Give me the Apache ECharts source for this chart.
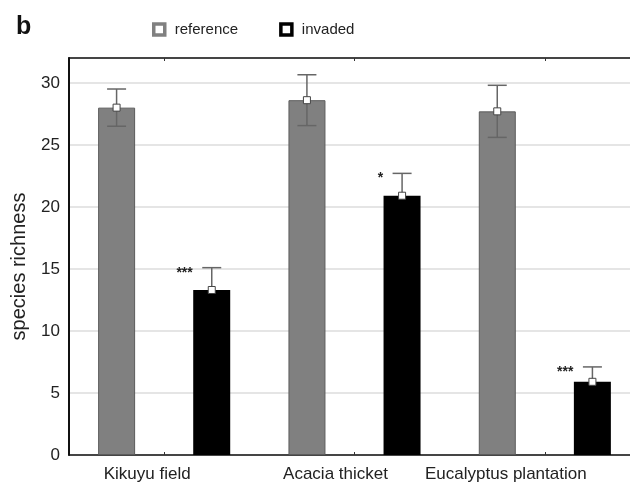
<!DOCTYPE html>
<html>
<head>
<meta charset="utf-8">
<script src="https://cdn.jsdelivr.net/npm/echarts@6/dist/echarts.min.js"></script>
<style>html,body{margin:0;padding:0;background:#fff}#c{width:630px;height:484px}</style>
</head>
<body>
<div id="c"></div>
<script>
// ---- data ----
const categories = ['Kikuyu field', 'Acacia thicket', 'Eucalyptus plantation'];
const referenceMean = [28.0, 28.6, 27.7];
const referenceErr = [1.5, 2.05, 2.1];
const invadedMean = [13.3, 20.9, 5.9];
const invadedErr = [1.8, 1.8, 1.2];
const significance = ['***', '*', '***'];
const seriesNames = ['reference', 'invaded'];

const FONT = '"Liberation Sans", Arial, sans-serif';

// error bar data: [categoryIndex, mean, err, seriesIndex, sigLabel]
const errData = [];
categories.forEach((c, i) => {
  errData.push([i, referenceMean[i], referenceErr[i], 0, '']);
  errData.push([i, invadedMean[i], invadedErr[i], 1, significance[i]]);
});

const labelShift = [34, 38, 78];

const chart = echarts.init(document.getElementById('c'), null, {renderer: 'canvas'});
chart.setOption({
  animation: false,
  backgroundColor: '#fff',
  textStyle: {fontFamily: FONT},
  title: {
    text: 'b', left: 11, top: 10,
    textStyle: {fontFamily: FONT, fontSize: 25, fontWeight: 'bold', color: '#111'}
  },
  legend: {
    left: 147, top: 17,
    itemWidth: 11, itemHeight: 11, itemGap: 41,
    icon: 'rect',
    textStyle: {fontFamily: FONT, fontSize: 15, color: '#222', padding: [0, 0, 0, 5]},
    data: [
      {name: seriesNames[0], itemStyle: {color: '#fff', borderColor: '#808080', borderWidth: 3.5}},
      {name: seriesNames[1], itemStyle: {color: '#fff', borderColor: '#000', borderWidth: 3.5}}
    ]
  },
  grid: {left: 69, right: -10, top: 58, bottom: 29, containLabel: false, outerBoundsMode: 'none'},
  xAxis: [{
    type: 'category',
    data: categories,
    axisLine: {lineStyle: {color: '#111', width: 1.5}},
    axisTick: {show: true, alignWithLabel: true, inside: true, length: 3, lineStyle: {color: '#333'}},
    axisLabel: {
      interval: 0, margin: 11,
      formatter: (v, i) => '{l' + i + '|' + v + '}',
      rich: {
        l0: {fontFamily: FONT, fontSize: 17, color: '#222', padding: [0, labelShift[0], 0, 0]},
        l1: {fontFamily: FONT, fontSize: 17, color: '#222', padding: [0, labelShift[1], 0, 0]},
        l2: {fontFamily: FONT, fontSize: 17, color: '#222', padding: [0, labelShift[2], 0, 0]}
      }
    },
    splitLine: {show: false}
  }, {
    type: 'category',
    position: 'top',
    data: categories,
    axisLine: {lineStyle: {color: '#111', width: 1.5}},
    axisTick: {show: true, alignWithLabel: true, inside: true, length: 3, lineStyle: {color: '#333'}},
    axisLabel: {show: false}
  }],
  yAxis: {
    type: 'value',
    min: 0, max: 32, interval: 5,
    name: 'species richness',
    nameLocation: 'middle',
    nameGap: 40,
    nameTextStyle: {fontFamily: FONT, fontSize: 20, color: '#222', padding: [0, 20, 0, 0]},
    axisLine: {show: true, lineStyle: {color: '#111', width: 2}},
    axisTick: {show: false},
    axisLabel: {
      fontFamily: FONT, fontSize: 17, color: '#222', margin: 9,
      showMaxLabel: false,
      formatter: v => (v % 5 === 0 ? String(v) : '')
    },
    splitLine: {show: true, lineStyle: {color: '#dcdcdc', width: 1.5}}
  },
  series: [{
    name: seriesNames[0],
    type: 'bar',
    data: referenceMean,
    barWidth: 37,
    barGap: '157%',
    itemStyle: {color: '#808080', borderColor: '#5c5c5c', borderWidth: 1}
  }, {
    name: seriesNames[1],
    type: 'bar',
    data: invadedMean,
    barWidth: 37,
    itemStyle: {color: '#000'}
  }, {
    type: 'custom',
    z: 5,
    data: errData,
    encode: {x: 0, y: 1},
    renderItem: function (params, api) {
      const i = api.value(0), m = api.value(1), e = api.value(2), s = api.value(3);
      const sig = errData[params.dataIndex][4];
      const bw = api.size([1, 0])[0];
      const off = (s === 0 ? -0.25 : 0.25) * bw;
      const pm = api.coord([i, m]);
      const pt = api.coord([i, m + e]);
      const pb = api.coord([i, m - e]);
      const x = pm[0] + off;
      const cap = 9.5;
      const ls = {stroke: '#666', lineWidth: 1.5};
      const children = [
        {type: 'line', shape: {x1: x, y1: pm[1], x2: x, y2: pt[1]}, style: ls},
        {type: 'line', shape: {x1: x - cap, y1: pt[1], x2: x + cap, y2: pt[1]}, style: ls}
      ];
      if (s === 0) {
        children.push({type: 'line', shape: {x1: x, y1: pm[1], x2: x, y2: pb[1]}, style: ls});
        children.push({type: 'line', shape: {x1: x - cap, y1: pb[1], x2: x + cap, y2: pb[1]}, style: ls});
      }
      children.push({type: 'rect', shape: {x: x - 3.5, y: pm[1] - 3.5, width: 7, height: 7},
        style: {fill: '#fff', stroke: '#444', lineWidth: 1}});
      if (sig) {
        children.push({type: 'text', x: x - 19, y: pt[1] + 5,
          style: {text: sig, fill: '#222', font: 'bold 14px ' + FONT, align: 'right', verticalAlign: 'middle'}});
      }
      return {type: 'group', children: children};
    }
  }]
});
</script>
</body>
</html>
